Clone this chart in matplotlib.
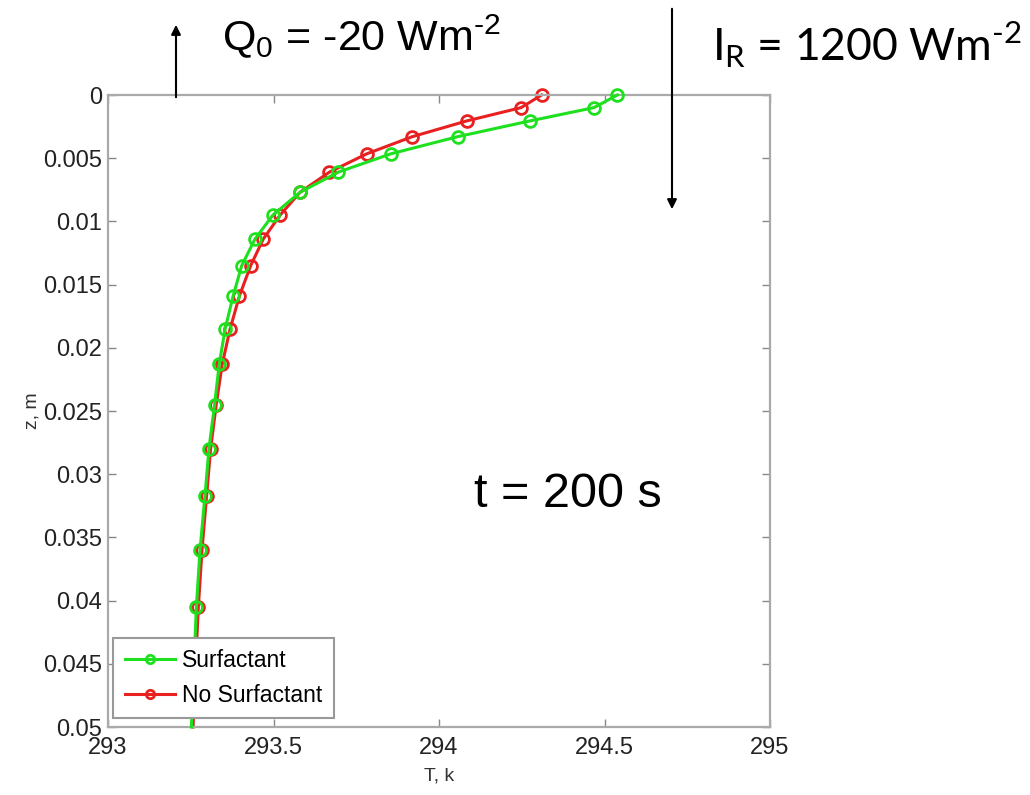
import numpy as np
import matplotlib
matplotlib.use('Agg')
import matplotlib.pyplot as plt
from matplotlib.patches import FancyArrowPatch

# depth grid (m) and temperatures (K)
z = [0, 0.001, 0.00205, 0.0033, 0.00465, 0.0061, 0.0077, 0.0095, 0.0114, 0.0135,
     0.0159, 0.0185, 0.0213, 0.0245, 0.028, 0.0317, 0.036, 0.0405, 0.0455, 0.05]
T_surf = [294.539, 294.468, 294.275, 294.056, 293.855, 293.696, 293.580, 293.498, 293.444, 293.404,
          293.378, 293.354, 293.336, 293.322, 293.305, 293.293, 293.278, 293.267, 293.259, 293.252]
T_nosurf = [294.310, 294.248, 294.084, 293.919, 293.782, 293.669, 293.580, 293.520, 293.469, 293.431,
            293.397, 293.369, 293.345, 293.327, 293.310, 293.298, 293.284, 293.273, 293.264, 293.257]

xticks = [293, 293.5, 294, 294.5, 295]
xticklabels = ['293', '293.5', '294', '294.5', '295']
yticks = [0, 0.005, 0.01, 0.015, 0.02, 0.025, 0.03, 0.035, 0.04, 0.045, 0.05]
yticklabels = ['0', '0.005', '0.01', '0.015', '0.02', '0.025', '0.03', '0.035', '0.04', '0.045', '0.05']

plt.rcParams['font.family'] = ['Liberation Sans', 'DejaVu Sans']

W, H = 1030, 795
fig = plt.figure(figsize=(W / 100, H / 100), dpi=100)
ax = fig.add_axes([108 / W, 1 - 727 / H, (770 - 108) / W, (727 - 95) / H])

green = '#1ee01e'
red = '#e82020'
marks = list(range(len(z) - 1))  # no marker on the end point at the bottom edge
ax.plot(T_surf, z, '-o', color=green, lw=2.2, ms=8.5, mfc='none', mew=2, label='Surfactant',
        markevery=marks, zorder=3, clip_on=False)
ax.plot(T_nosurf, z, '-o', color=red, lw=2.2, ms=8.5, mfc='none', mew=2, label='No Surfactant',
        markevery=marks, zorder=2, clip_on=False)

ax.set_xlim(293, 295)
ax.set_ylim(0.05, 0)
ax.set_xticks(xticks)
ax.set_xticklabels(xticklabels)
ax.set_yticks(yticks)
ax.set_yticklabels(yticklabels)
ax.tick_params(direction='in', length=6, width=1, color='#888888', labelsize=17,
               labelcolor='#222222', top=True, right=True)
ax.tick_params(axis='x', pad=7)
ax.tick_params(axis='y', pad=4)
for s in ax.spines.values():
    s.set_color('#aaaaaa')
    s.set_linewidth(1.6)
ax.set_xlabel('T, k', fontsize=14, color='#333333', labelpad=6)
ax.set_ylabel('z, m', fontsize=14, color='#333333', labelpad=2)

leg = ax.legend(loc='lower left', bbox_to_anchor=(0.008, 0.014), fontsize=16.5, handlelength=2.2,
                handletextpad=0.3, borderpad=0.5, labelspacing=0.5, fancybox=False,
                framealpha=1, borderaxespad=0)
leg.get_frame().set_edgecolor('#999999')
leg.get_frame().set_linewidth(1.5)
for h in leg.legend_handles:
    h.set_markersize(6)
    h.set_markevery([1])

ax.text(294.39, 0.0316, 't = 200 s', fontsize=35, ha='center', va='center')

# annotations above the axes (figure coordinates); plain hyphen in the exponents
fig.text(222 / W, 1 - 36 / H, 'Q$_\\mathregular{0}$ = -20 Wm$^\\mathregular{\u20102}$',
         fontsize=31, ha='left', va='center')
fig.text(712 / W, 1 - 45 / H, 'I$_\\mathregular{R}$ = 1200 Wm$^\\mathregular{\u20102}$', fontsize=32,
         ha='left', va='center', family=['Lato', 'DejaVu Sans'])
fig.add_artist(FancyArrowPatch((176 / W, 1 - 100 / H), (176 / W, 1 - 22 / H),
                               transform=fig.transFigure, arrowstyle='-|>',
                               mutation_scale=14, lw=1.5, color='black'))
fig.add_artist(FancyArrowPatch((672 / W, 1 - 6 / H), (672 / W, 1 - 212 / H),
                               transform=fig.transFigure, arrowstyle='-|>',
                               mutation_scale=14, lw=1.5, color='black'))

fig.savefig('out.png', dpi=100)
